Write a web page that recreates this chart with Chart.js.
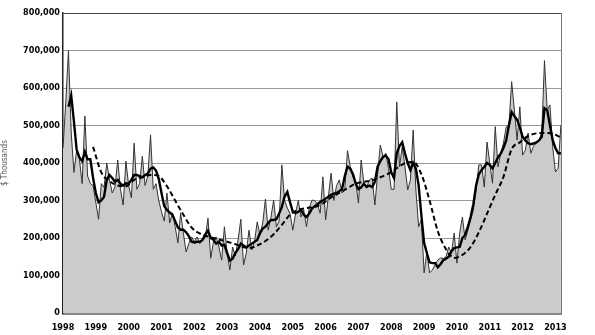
<!DOCTYPE html>
<html>
<head>
<meta charset="utf-8">
<script src="https://cdn.jsdelivr.net/npm/chart.js@4.4.1/dist/chart.umd.min.js"></script>
<style>
  html, body { margin: 0; padding: 0; background: #fff; }
  #wrap { width: 595px; height: 335px; }
</style>
</head>
<body>
<div id="wrap"><canvas id="chart"></canvas></div>
<script>
// --- Data ($ thousands), monthly from Jan 1998 ---
const startYear = 1998;

const monthly = [
  440, 560, 700, 480, 375, 435, 410, 345, 525, 365, 345, 340, // 1998
  295, 250, 345, 335, 400, 355, 320, 336, 408, 330, 288, 405, // 1999
  340, 307, 453, 330, 345, 418, 340, 365, 475, 330, 345, 300, // 2000
  270, 245, 320, 240, 267, 230, 187, 267, 213, 163, 185, 203, // 2001
  190, 203, 185, 195, 200, 253, 146, 190, 203, 176, 141, 230, // 2002
  160, 115, 176, 152, 195, 250, 128, 160, 221, 168, 190, 243, // 2003
  208, 240, 304, 221, 255, 301, 230, 245, 395, 300, 280, 265, // 2004
  221, 265, 300, 256, 275, 230, 280, 301, 300, 290, 266, 363, // 2005
  248, 310, 373, 300, 340, 355, 320, 330, 433, 390, 363, 350, // 2006
  293, 408, 345, 336, 355, 360, 288, 370, 448, 416, 426, 385, // 2007
  330, 330, 563, 390, 443, 390, 328, 355, 488, 328, 230, 248, // 2008
  107, 163, 107, 115, 128, 141, 147, 145, 150, 176, 160, 213, // 2009
  133, 213, 256, 195, 221, 248, 275, 328, 395, 395, 336, 456, // 2010
  400, 346, 497, 390, 426, 453, 496, 500, 617, 541, 461, 550, // 2011
  421, 434, 480, 426, 445, 453, 461, 480, 673, 541, 555, 443, // 2012
  376, 386, 501                                               // 2013
];

// thick line, 3-month average
const avg3 = [
  null, null, 550, 580, 510, 435, 415, 405, 430, 410, 410, 360,
  320, 295, 300, 310, 355, 368, 360, 350, 355, 345, 340, 346,
  345, 355, 368, 368, 365, 362, 368, 372, 385, 388, 380, 358,
  320, 285, 275, 268, 262, 245, 228, 222, 222, 215, 205, 190,
  188, 190, 190, 195, 210, 220, 200, 195, 185, 190, 180, 182,
  160, 140, 145, 160, 170, 185, 180, 175, 180, 185, 190, 195,
  213, 225, 230, 240, 248, 248, 250, 265, 283, 310, 323, 295,
  270, 266, 270, 275, 262, 256, 265, 278, 285, 290, 296, 300,
  305, 310, 315, 318, 320, 325, 330, 365, 390, 385, 370, 345,
  330, 335, 345, 336, 340, 336, 350, 390, 405, 416, 420, 410,
  375, 360, 426, 445, 455, 426, 400, 381, 400, 385, 340, 260,
  187, 160, 135, 133, 133, 122, 130, 141, 145, 150, 165, 173,
  175, 176, 200, 208, 230, 256, 290, 340, 370, 381, 390, 400,
  395, 386, 400, 415, 425, 440, 460, 500, 536, 525, 515, 495,
  470, 460, 453, 450, 452, 455, 460, 470, 546, 541, 500, 461,
  440, 426, 426
];

// dashed line, 12-month average read every 3 months from Dec 1998
const avg12Start = 11;
const avg12Step = 3;
const avg12 = [
  443, 375, 352, 340, 338, 355, 362, 368, 365, 338, 300, 262,
  228, 212, 204, 198, 192, 186, 178, 173, 180, 192, 210, 235,
  262, 275, 280, 283, 292, 308, 320, 333, 345, 350, 354, 362,
  372, 386, 400, 403, 370, 300, 218, 170, 147, 155, 176, 215,
  265, 315, 363, 437, 455, 472, 479, 480, 478, 468
];

const yTicks = [0, 100000, 200000, 300000, 400000, 500000, 600000, 700000, 800000];
const yTitle = '$ Thousands';

// --- build points ---
const toPoints = (arr, start, step) =>
  arr.map((v, i) => ({ x: startYear + (start + i * step) / 12, y: v === null ? null : v * 1000 }));

const monthlyPts = toPoints(monthly, 0, 1);
const avg3Pts = toPoints(avg3, 0, 1);
const avg12Pts = toPoints(avg12, avg12Start, avg12Step);

const condensed = "'Liberation Sans Narrow', 'DejaVu Sans Condensed', sans-serif";
const labelFont = { family: condensed, size: 9, weight: 'bold' };

const frame = {
  id: 'frame',
  afterDraw(chart) {
    const { ctx, chartArea } = chart;
    ctx.save();
    ctx.strokeStyle = '#777';
    ctx.lineWidth = 1;
    ctx.beginPath();
    ctx.moveTo(chartArea.right + 0.5, chartArea.top);
    ctx.lineTo(chartArea.right + 0.5, chartArea.bottom);
    ctx.stroke();
    ctx.restore();
  }
};

new Chart(document.getElementById('chart'), {
  type: 'line',
  data: {
    datasets: [
      {
        data: avg12Pts, borderColor: '#000', borderWidth: 2, borderDash: [5, 3],
        pointRadius: 0, fill: false, cubicInterpolationMode: 'monotone'
      },
      {
        data: avg3Pts, borderColor: '#000', borderWidth: 2.4,
        pointRadius: 0, fill: false, tension: 0, spanGaps: false
      },
      {
        data: monthlyPts, borderColor: '#333', borderWidth: 1,
        pointRadius: 0, fill: 'origin', backgroundColor: '#cbcbcb', tension: 0
      }
    ]
  },
  options: {
    responsive: true,
    maintainAspectRatio: false,
    animation: false,
    layout: { padding: { left: 0, right: 34, top: 13, bottom: 0 } },
    plugins: { legend: { display: false }, tooltip: { enabled: false } },
    scales: {
      x: {
        type: 'linear',
        min: 1998,
        max: 2013.17,
        ticks: {
          stepSize: 1, includeBounds: false, autoSkip: false, maxRotation: 0,
          color: '#000', font: labelFont, padding: 1,
          callback: v => String(v)
        },
        grid: { display: false },
        border: { color: '#888', width: 3 },
        afterFit: s => { s.height = 22; }
      },
      y: {
        min: 0,
        max: 800000,
        afterBuildTicks: s => { s.ticks = yTicks.map(v => ({ value: v })); },
        ticks: {
          color: '#000', font: labelFont, padding: 3,
          callback: v => v.toLocaleString('en-US')
        },
        grid: {
          color: c => (c.tick && c.tick.value === 800000 ? '#444' : '#9a9a9a'),
          lineWidth: 1, drawTicks: false
        },
        border: { color: '#222', width: 1.5 },
        title: {
          display: true, text: yTitle, color: '#555',
          font: { family: condensed, size: 8 },
          padding: { top: 0, bottom: 0 }
        },
        afterFit: s => { s.width = 63; }
      }
    }
  },
  plugins: [frame]
});
</script>
</body>
</html>
